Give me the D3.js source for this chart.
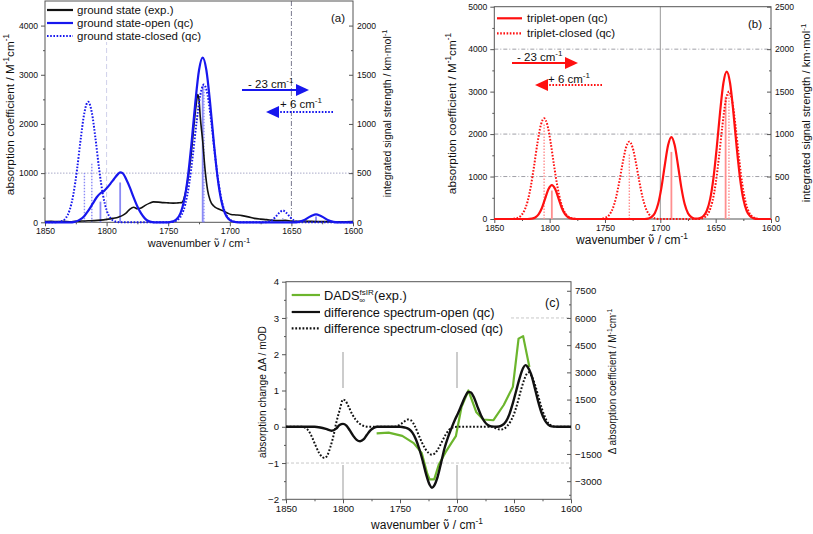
<!DOCTYPE html>
<html><head><meta charset="utf-8">
<script src="https://cdn.jsdelivr.net/npm/d3@7"></script>
<style>body{margin:0;background:#fff}svg{display:block}text{font-family:"Liberation Sans",Arial,sans-serif;fill:#111}</style>
</head><body>
<script>
// ---------------- DATA ----------------
const wnTicks = [1850, 1800, 1750, 1700, 1650, 1600];
const wnMinor = [1825, 1775, 1725, 1675, 1625];
const aLeftTicks = [0, 1000, 2000, 3000, 4000];
const aRightTicks = [0, 500, 1000, 1500, 2000];
const bLeftTicks = [0, 1000, 2000, 3000, 4000, 5000];
const bRightTicks = [0, 500, 1000, 1500, 2000, 2500];
const cLeftTicks = [-2, -1, 0, 1, 2, 3, 4];
const cRightTicks = [-3000, -1500, 0, 1500, 3000, 4500, 6000, 7500];

// panel (a) [wavenumber, M^-1 cm^-1]
const aExp = [[1850,15],[1845,20],[1840,15],[1835,18],[1830,12],[1825,20],[1820,25],[1815,30],[1810,35],[1805,45],[1800,60],[1795,80],[1790,110],[1787,140],[1784,190],[1781,270],[1778,305],[1775,275],[1772,290],[1769,340],[1765,390],[1762,415],[1758,410],[1754,400],[1750,395],[1746,390],[1742,395],[1739,400],[1737,500],[1735,720],[1733,1050],[1731,1470],[1729,2000],[1727,2450],[1726,2600],[1725,2500],[1724,2150],[1722,1650],[1720,1050],[1718,650],[1716,450],[1713,330],[1710,280],[1706,240],[1702,190],[1699,160],[1695,150],[1690,135],[1685,110],[1680,80],[1675,65],[1670,55],[1665,40],[1660,35],[1655,40],[1650,25],[1645,20],[1640,25],[1635,20],[1630,15],[1620,15],[1610,10],[1600,15]];
const aOpen = [[1850,0],[1830,0],[1826,10],[1822,50],[1818,130],[1815,230],[1811,390],[1808,510],[1805,590],[1802,640],[1800,690],[1797,780],[1794,880],[1791,975],[1789,1017],[1787,1000],[1784,870],[1781,700],[1778,500],[1775,320],[1772,180],[1769,80],[1766,25],[1763,5],[1760,0],[1752,0],[1749,5],[1746,20],[1743,66],[1740,188],[1737,453],[1734,931],[1731,1630],[1728,2433],[1725,3092],[1722,3350],[1719,3092],[1716,2433],[1713,1630],[1710,931],[1707,453],[1704,188],[1701,66],[1698,20],[1695,5],[1690,0],[1648,0],[1644,10],[1640,40],[1636,100],[1633,140],[1630,160],[1627,140],[1624,100],[1620,40],[1616,10],[1612,0],[1600,0]];
const aClosed = [[1850,0],[1842,0],[1839,7],[1836,27],[1833,90],[1830,247],[1827,564],[1824,1071],[1821,1698],[1818,2234],[1815,2450],[1812,2234],[1809,1698],[1806,1071],[1803,564],[1800,247],[1797,90],[1794,27],[1791,7],[1788,0],[1751,0],[1748,4],[1745,17],[1742,55],[1739,157],[1736,378],[1733,778],[1730,1364],[1727,2033],[1724,2584],[1721,2800],[1718,2584],[1715,2033],[1712,1364],[1709,778],[1706,378],[1703,157],[1700,55],[1697,17],[1694,4],[1690,0],[1672,0],[1669,10],[1666,40],[1663,105],[1660,190],[1657,240],[1654,190],[1651,105],[1648,40],[1645,10],[1642,0],[1600,0]];
// sticks [wavenumber, km/mol]
const aOpenSticks = [[1805,210],[1789,405],[1722,1390],[1630,60]];
const aClosedSticks = [[1818,500],[1812,600],[1721,1380],[1657,40]];

// panel (b)
const bOpen = [[1850,0],[1820,0],[1816,9],[1813,35],[1810,108],[1807,260],[1804,486],[1801,706],[1798,800],[1795,706],[1792,486],[1789,260],[1786,108],[1783,35],[1780,9],[1776,0],[1714,0],[1711,10],[1708,42],[1705,135],[1702,351],[1699,739],[1696,1260],[1693,1735],[1690,1930],[1687,1735],[1684,1260],[1681,739],[1678,351],[1675,135],[1672,42],[1669,10],[1666,12],[1664,21],[1661,69],[1658,194],[1655,468],[1652,965],[1649,1690],[1646,2519],[1643,3203],[1640,3470],[1637,3203],[1634,2519],[1631,1690],[1628,965],[1625,468],[1622,194],[1619,69],[1616,21],[1612,0],[1600,0]];
const bClosed = [[1850,0],[1835,0],[1832,8],[1829,26],[1826,76],[1823,189],[1820,408],[1817,770],[1814,1258],[1811,1789],[1808,2209],[1805,2370],[1802,2209],[1799,1789],[1796,1258],[1793,770],[1790,408],[1787,189],[1784,76],[1781,26],[1778,8],[1774,0],[1755,0],[1752,11],[1749,36],[1746,102],[1743,246],[1740,506],[1737,886],[1734,1321],[1731,1680],[1728,1820],[1725,1680],[1722,1321],[1719,886],[1716,506],[1713,246],[1710,102],[1707,36],[1704,11],[1700,0],[1665,0],[1662,18],[1659,59],[1656,168],[1653,405],[1650,834],[1647,1461],[1644,2178],[1641,2769],[1638,3000],[1635,2769],[1632,2178],[1629,1461],[1626,834],[1623,405],[1620,168],[1617,59],[1614,18],[1610,0],[1600,0]];
const bOpenSticks = [[1798,335],[1690,790],[1641,1440]];
const bClosedSticks = [[1805,1120],[1728,770],[1638,1490]];

// panel (c) [wavenumber, mOD]
const cDads = [[1770.5,-0.18],[1760,-0.16],[1748,-0.25],[1738,-0.45],[1731,-0.72],[1726,-1.3],[1724,-1.45],[1720,-1.45],[1716,-1.05],[1710,-0.7],[1705,-0.45],[1701,-0.26],[1696,0.55],[1690,1.0],[1683,0.4],[1677,0.2],[1668,0.18],[1659,0.6],[1651,1.1],[1646,2.43],[1642,2.5],[1636.5,1.65]];
const cOpen = [[1850,0],[1825,0],[1820,-0.02],[1815,-0.06],[1810,-0.11],[1806,-0.05],[1803,0.05],[1800,0.08],[1797,0.03],[1794,-0.1],[1791,-0.25],[1788,-0.36],[1785,-0.4],[1782,-0.35],[1779,-0.22],[1776,-0.1],[1773,-0.03],[1770,0],[1750,0],[1746,-0.02],[1742,-0.07],[1739,-0.17],[1736,-0.35],[1733,-0.62],[1730,-0.95],[1727,-1.32],[1724,-1.6],[1722,-1.68],[1720,-1.62],[1717,-1.38],[1714,-1.0],[1711,-0.6],[1708,-0.3],[1705,-0.05],[1702,0.18],[1699,0.38],[1696,0.6],[1693,0.82],[1690,0.96],[1688,0.95],[1685,0.8],[1682,0.55],[1679,0.32],[1676,0.15],[1673,0.05],[1670,0.01],[1665,0],[1661,0.03],[1657,0.15],[1654,0.35],[1651,0.65],[1648,1.0],[1645,1.35],[1642,1.62],[1640,1.7],[1638,1.65],[1635,1.45],[1632,1.1],[1629,0.72],[1626,0.4],[1623,0.18],[1620,0.06],[1617,0.01],[1612,0],[1600,0]];
const cClosed = [[1850,0],[1836,0],[1833,-0.03],[1830,-0.12],[1827,-0.3],[1824,-0.52],[1821,-0.72],[1818,-0.84],[1816,-0.86],[1814,-0.8],[1811,-0.55],[1808,-0.2],[1806,0.1],[1803,0.45],[1800,0.75],[1798,0.72],[1795,0.55],[1792,0.35],[1789,0.2],[1786,0.1],[1783,0.04],[1780,0.01],[1777,0],[1755,0],[1752,0.03],[1749,0.08],[1746,0.15],[1743,0.2],[1740,0.17],[1737,0.02],[1734,-0.2],[1731,-0.42],[1728,-0.6],[1725,-0.72],[1722,-0.77],[1719,-0.72],[1716,-0.58],[1713,-0.4],[1710,-0.22],[1707,-0.09],[1704,-0.02],[1700,0],[1670,0],[1666,-0.04],[1662,-0.08],[1659,-0.06],[1656,0.02],[1653,0.15],[1650,0.35],[1647,0.65],[1644,1.0],[1641,1.3],[1639,1.45],[1637,1.5],[1635,1.42],[1632,1.2],[1629,0.88],[1626,0.55],[1623,0.28],[1620,0.1],[1617,0.03],[1614,0],[1600,0]];

// ---------------- DRAW ----------------
const BLUE = "#1717ee", LBLUE = "#8a8af5", RED = "#ff1010", LRED = "#ff8f8f", GREEN = "#6cb52d", AX = "#555";
const svg = d3.select("body").append("svg").attr("width", 813).attr("height", 534);

function rich(t, parts, size) {
  let shift = 0;
  parts.forEach(([s, kind, font]) => {
    const ts = t.append("tspan").text(s);
    const target = kind === "sup" ? -size * 0.4 : kind === "sub" ? size * 0.3 : 0;
    if (target - shift !== 0) ts.attr("dy", target - shift);
    shift = target;
    if (kind !== "n") ts.attr("font-size", size * 0.7);
    if (font) ts.attr("font-family", font).attr("font-size", size * 0.95);
  });
}

function panel(cfg) {
  const g = svg.append("g");
  const x = d3.scaleLinear().domain([1850, 1600]).range([cfg.x0, cfg.x1]);
  const y = d3.scaleLinear().domain(cfg.yDom).range([cfg.y0, cfg.y1]);
  const y2 = d3.scaleLinear().domain(cfg.y2Dom).range([cfg.y0, cfg.y1]);
  cfg.back && cfg.back(g, x, y, y2);
  const fs = cfg.tickFs;
  const styleAx = s => { s.select(".domain").remove(); s.selectAll("line").attr("stroke", AX); s.selectAll("text").attr("font-size", fs).attr("fill", "#222").attr("font-family", '"Liberation Sans",Arial,sans-serif'); };
  g.append("g").attr("transform", `translate(0,${cfg.y0})`).call(d3.axisBottom(x).tickValues(wnTicks).tickSize(4).tickPadding(2).tickFormat(d3.format("d"))).call(styleAx);
  g.append("g").attr("transform", `translate(0,${cfg.y0})`).call(d3.axisBottom(x).tickValues(wnMinor).tickSize(2).tickFormat("")).call(styleAx);
  g.append("g").attr("transform", `translate(${cfg.x0},0)`).call(d3.axisLeft(y).tickValues(cfg.lt).tickSize(4).tickPadding(3).tickFormat(d3.format("d"))).call(styleAx);
  g.append("g").attr("transform", `translate(${cfg.x0},0)`).call(d3.axisLeft(y).tickValues(cfg.lm).tickSize(2).tickFormat("")).call(styleAx);
  g.append("g").attr("transform", `translate(${cfg.x1},0)`).call(d3.axisRight(y2).tickValues(cfg.rt).tickSize(-4).tickPadding(4).tickFormat(d3.format("d"))).call(styleAx);
  g.append("g").attr("transform", `translate(${cfg.x1},0)`).call(d3.axisRight(y2).tickValues(cfg.rm).tickSize(-2).tickFormat("")).call(styleAx);
  g.append("rect").attr("x", cfg.x0).attr("y", cfg.y1).attr("width", cfg.x1 - cfg.x0).attr("height", cfg.y0 - cfg.y1).attr("fill", "none").attr("stroke", AX).attr("stroke-width", 1);
  return {g, x, y, y2};
}
function curve(g, x, y, data, color, w, dash) {
  const p = g.append("path").datum(data).attr("fill", "none").attr("stroke", color).attr("stroke-width", w)
    .attr("stroke-linejoin", "round")
    .attr("d", d3.line().x(d => x(d[0])).y(d => y(d[1])).curve(d3.curveMonotoneX));
  if (dash) p.attr("stroke-dasharray", dash);
  return p;
}
function polyline(g, x, y, data, color, w) {
  g.append("path").datum(data).attr("fill", "none").attr("stroke", color).attr("stroke-width", w).attr("stroke-linejoin", "round")
    .attr("d", d3.line().x(d => x(d[0])).y(d => y(d[1])));
}
function sticks(g, x, y2, data, color, w, dash) {
  g.selectAll(null).data(data).enter().append("line")
    .attr("x1", d => x(d[0])).attr("x2", d => x(d[0])).attr("y1", y2(0)).attr("y2", d => y2(d[1]))
    .attr("stroke", color).attr("stroke-width", w).attr("stroke-dasharray", dash || null);
}
function label(x, y, rot, size, parts, anchor) {
  const t = svg.append("text").attr("transform", `translate(${x},${y})${rot ? " rotate(-90)" : ""}`)
    .attr("text-anchor", anchor || "middle").attr("font-size", size);
  rich(t, parts, size);
  return t;
}
function arrow(g, xs, xe, yy, color, dashed) {
  const dir = Math.sign(xe - xs), hl = 13, hw = 6;
  const l = g.append("line").attr("x1", xs).attr("x2", xe - dir * hl).attr("y1", yy).attr("y2", yy).attr("stroke", color).attr("stroke-width", dashed ? 2 : 1.8);
  if (dashed) l.attr("stroke-dasharray", "1.6,1.6");
  g.append("path").attr("d", `M${xe},${yy} L${xe - dir * hl},${yy - hw} L${xe - dir * hl},${yy + hw} Z`).attr("fill", color);
}
const wnLabel = [["wavenumber ", "n"], ["\u03BD\u0303", "n", "DejaVu Sans"], [" / ", "n"], ["cm", "n"], ["-1", "sup"]];
const absLabel = [["absorption coefficient / M", "n"], ["-1", "sup"], ["cm", "n"], ["-1", "sup"]];
const intLabel = [["integrated signal strength / km\u00B7mol", "n"], ["-1", "sup"]];

// ===== Panel (a) =====
{
  const {g, x, y, y2} = panel({x0: 45, x1: 353, y0: 222.3, y1: 1, yDom: [0, 4500], y2Dom: [0, 2250],
    lt: aLeftTicks, lm: [500, 1500, 2500, 3500], rt: aRightTicks, rm: [250, 750, 1250, 1750], tickFs: 8.6,
    back: (g, x, y) => {
      g.append("line").attr("x1", 45).attr("x2", 353).attr("y1", y(1000)).attr("y2", y(1000)).attr("stroke", "#a9abc8").attr("stroke-dasharray", "1.5,1.5");
      g.append("line").attr("x1", x(1800)).attr("x2", x(1800)).attr("y1", 40).attr("y2", 222).attr("stroke", "#cfd0ea").attr("stroke-dasharray", "5,3");
      g.append("line").attr("x1", x(1650)).attr("x2", x(1650)).attr("y1", 1).attr("y2", 222).attr("stroke", "#7a7a90").attr("stroke-dasharray", "5,2,1,2");
    }});
  sticks(g, x, y2, aOpenSticks, LBLUE, 1.8);
  sticks(g, x, y2, aClosedSticks, LBLUE, 1.4, "1.5,1.5");
  curve(g, x, y, aExp, "#111", 1.6);
  curve(g, x, y, aClosed, BLUE, 2, "1.6,1.6");
  curve(g, x, y, aOpen, BLUE, 2.2);
  g.append("rect").attr("x", 46).attr("y", 2).attr("width", 158).attr("height", 40).attr("fill", "#fff");
  const leg = [["ground state (exp.)", "#111", null], ["ground state-open (qc)", BLUE, null], ["ground state-closed (qc)", BLUE, "1.6,1.6"]];
  leg.forEach((d, i) => {
    const yy = 10 + i * 13;
    g.append("line").attr("x1", 47).attr("x2", 73).attr("y1", yy).attr("y2", yy).attr("stroke", d[1]).attr("stroke-width", 2.2).attr("stroke-dasharray", d[2]);
    g.append("text").attr("x", 77).attr("y", yy + 4).attr("font-size", 11.5).text(d[0]);
  });
  g.append("text").attr("x", 331).attr("y", 22).attr("font-size", 11.5).text("(a)");
  arrow(g, 242, 309, 90, BLUE, false);
  arrow(g, 333, 266, 112, BLUE, true);
  label(248, 88, false, 11.5, [["- 23 cm", "n"], ["-1", "sup"]], "start");
  label(280, 108, false, 11.5, [["+ 6 cm", "n"], ["-1", "sup"]], "start");
}
label(199, 247, false, 11, wnLabel);
label(14, 114.5, true, 11.8, absLabel);
label(391, 113.5, true, 10.5, intLabel);

// ===== Panel (b) =====
{
  const {g, x, y, y2} = panel({x0: 494.3, x1: 771, y0: 219, y1: 6.7, yDom: [0, 5000], y2Dom: [0, 2500],
    lt: bLeftTicks, lm: [500, 1500, 2500, 3500, 4500], rt: bRightTicks, rm: [250, 750, 1250, 1750, 2250], tickFs: 8.6,
    back: (g, x, y) => {
      [1000, 2000, 4000].forEach(v => g.append("line").attr("x1", 494.3).attr("x2", 771).attr("y1", y(v)).attr("y2", y(v)).attr("stroke", "#a0a0a8").attr("stroke-dasharray", "4,2,1,2"));
      g.append("line").attr("x1", x(1700)).attr("x2", x(1700)).attr("y1", 6.7).attr("y2", 219).attr("stroke", "#999");
    }});
  sticks(g, x, y2, bOpenSticks, LRED, 1.8);
  sticks(g, x, y2, bClosedSticks, LRED, 1.4, "1.5,1.5");
  curve(g, x, y, bClosed, RED, 2, "1.6,1.6");
  curve(g, x, y, bOpen, RED, 2.2);
  g.append("rect").attr("x", 496).attr("y", 8).attr("width", 130).attr("height", 32).attr("fill", "#fff");
  const leg = [["triplet-open (qc)", RED, null], ["triplet-closed (qc)", RED, "1.6,1.6"]];
  leg.forEach((d, i) => {
    const yy = 18.3 + i * 15;
    g.append("line").attr("x1", 497).attr("x2", 522).attr("y1", yy).attr("y2", yy).attr("stroke", d[1]).attr("stroke-width", 2.2).attr("stroke-dasharray", d[2]);
    g.append("text").attr("x", 527).attr("y", yy + 4).attr("font-size", 11.5).text(d[0]);
  });
  g.append("text").attr("x", 748).attr("y", 28).attr("font-size", 11.5).text("(b)");
  arrow(g, 512, 578, 63, RED, false);
  arrow(g, 602, 535, 85, RED, true);
  label(517, 60.5, false, 11.5, [["- 23 cm", "n"], ["-1", "sup"]], "start");
  label(548, 82.5, false, 11.5, [["+ 6 cm", "n"], ["-1", "sup"]], "start");
}
label(632, 244, false, 12, wnLabel);
label(456, 113.5, true, 11.8, absLabel);
label(810, 113, true, 11.2, intLabel);

// ===== Panel (c) =====
{
  const {g, x, y, y2} = panel({x0: 286, x1: 571, y0: 499.3, y1: 281.7, yDom: [-2, 4], y2Dom: [-4000, 8000],
    lt: cLeftTicks, lm: [-1.5, -0.5, 0.5, 1.5, 2.5, 3.5], rt: cRightTicks, rm: [-3750, -2250, -750, 750, 2250, 3750, 5250, 6750], tickFs: 9.6,
    back: (g, x, y) => {
      [3, -1].forEach(v => g.append("line").attr("x1", 286).attr("x2", 571).attr("y1", y(v)).attr("y2", y(v)).attr("stroke", "#c8c8c8").attr("stroke-dasharray", "3,2"));
      [1800, 1700].forEach(v => g.append("line").attr("x1", x(v)).attr("x2", x(v)).attr("y1", 352).attr("y2", 499).attr("stroke", "#999").attr("stroke-dasharray", "36,77"));
    }});
  polyline(g, x, y, cDads, GREEN, 2.2);
  curve(g, x, y, cClosed, "#111", 2, "1.8,1.8");
  curve(g, x, y, cOpen, "#111", 2.4);
  g.append("rect").attr("x", 288).attr("y", 284).attr("width", 222).attr("height", 52).attr("fill", "#fff");
  const leg = [[GREEN, null], ["#111", null], ["#111", "1.8,1.8"]];
  const txt = [null, "difference spectrum-open (qc)", "difference spectrum-closed (qc)"];
  leg.forEach((d, i) => {
    const yy = [295, 312, 328.3][i];
    g.append("line").attr("x1", 291.7).attr("x2", 320).attr("y1", yy).attr("y2", yy).attr("stroke", d[0]).attr("stroke-width", 2.2).attr("stroke-dasharray", d[1]);
    if (txt[i]) g.append("text").attr("x", 324).attr("y", yy + 4.5).attr("font-size", 12.8).text(txt[i]);
  });
  const t = g.append("text").attr("x", 324).attr("y", 299.5).attr("font-size", 12.8);
  t.append("tspan").text("DADS");
  t.append("tspan").attr("font-size", 8).attr("dy", -5).text("fsIR");
  t.append("tspan").attr("font-size", 8).attr("dy", 8).attr("dx", -14.5).text("\u221E");
  t.append("tspan").attr("dy", -3).attr("dx", 9).text("(exp.)");
  g.append("text").attr("x", 545).attr("y", 306.5).attr("font-size", 12.5).text("(c)");
}
label(427, 529, false, 12, wnLabel);
label(265.5, 392, true, 10.2, [["absorption change \u0394A / mOD", "n"]]);
label(615.5, 381.5, true, 10, [["\u0394 absorption coefficient / M", "n"], ["-1", "sup"], ["cm", "n"], ["-1", "sup"]]);
</script>
</body></html>
